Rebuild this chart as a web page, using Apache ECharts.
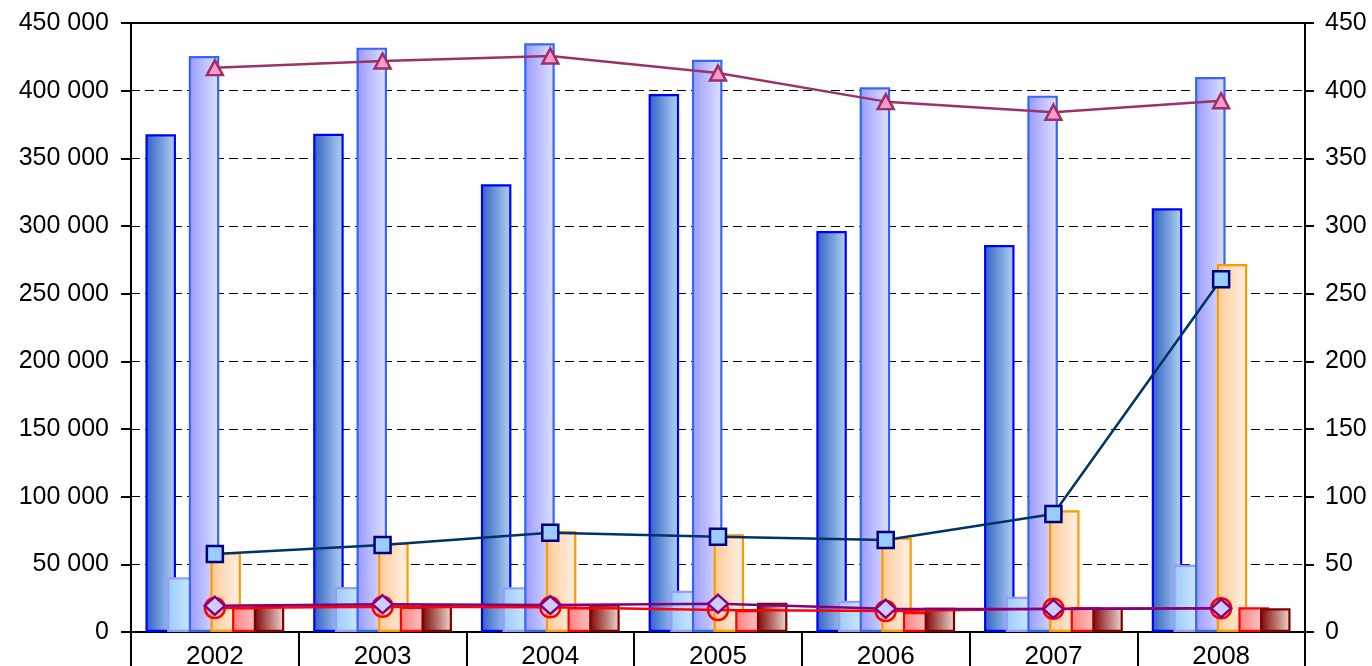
<!DOCTYPE html>
<html>
<head>
<meta charset="utf-8">
<script src="https://cdn.jsdelivr.net/npm/echarts@6/dist/echarts.min.js"></script>
<style>
html,body{margin:0;padding:0;background:#fff;}
#c{width:1372px;height:666px;}
</style>
</head>
<body>
<div id="c"></div>
<script>
var years = ['2002','2003','2004','2005','2006','2007','2008'];
var barDarkBlue  = [367800, 368200, 330800, 397500, 296300, 286000, 313100];
var barLightBlue = [40400, 33200, 33000, 30500, 23100, 26100, 49700];
var barLavender  = [425600, 431800, 435000, 422900, 402500, 396300, 410100];
var barOrange    = [58900, 66000, 74600, 72200, 69700, 89900, 271900];
var barRed       = [18200, 18700, 18200, 16300, 14800, 18500, 18200];
var barDarkRed   = [19700, 20500, 20500, 21700, 18000, 18000, 17500];
var lineTriangle = [417000, 421900, 425600, 413000, 391900, 384000, 392600];
var lineSquare   = [57600, 64300, 73400, 70400, 68000, 87200, 260600];
var lineDiamond  = [19400, 20500, 19900, 20900, 17200, 17000, 17500];
var lineCircle   = [17700, 18700, 18200, 16300, 15500, 17200, 17500];

var FONT = 'Liberation Sans, Arial, sans-serif';
function fmt(v){ return String(v).replace(/\B(?=(\d{3})+(?!\d))/g, ' '); }
function fmtRight(v){ return fmt(v).split(' ')[0]; }
function grad(a, b){
  return new echarts.graphic.LinearGradient(0, 0, 1, 0, [{offset:0, color:a},{offset:1, color:b}]);
}
var BW = 30.5, GAP = '-29%';
function bar(name, data, c1, c2, border){
  return {
    name: name, type: 'bar', data: data, yAxisIndex: 0,
    barWidth: BW, barGap: GAP,
    itemStyle: { color: grad(c1, c2), borderColor: border, borderWidth: 2.2 }
  };
}
function line(name, data, color, symbol, size, fill, border, width){
  return {
    name: name, type: 'line', data: data, yAxisIndex: 1, z: 5,
    symbol: symbol, symbolSize: size, showSymbol: true,
    lineStyle: { color: color, width: width },
    itemStyle: { color: fill, borderColor: border, borderWidth: 2.5 }
  };
}

var chart = echarts.init(document.getElementById('c'));
chart.setOption({
  animation: false,
  backgroundColor: '#ffffff',
  grid: { left: 131, right: 67, top: 23, bottom: 34, containLabel: false, outerBoundsMode: 'none',
          show: true, borderColor: '#000', borderWidth: 2, backgroundColor: 'transparent' },
  xAxis: {
    type: 'category', data: years,
    axisLine: { show: true, lineStyle: { color: '#000', width: 2 } },
    axisTick: { show: true, alignWithLabel: false, length: 40, lineStyle: { color: '#000', width: 2 } },
    axisLabel: { color: '#000', fontFamily: FONT, fontSize: 26, margin: 12 },
    splitLine: { show: false }
  },
  yAxis: [
    {
      type: 'value', min: 0, max: 450000, interval: 50000, position: 'left',
      axisLine: { show: true, lineStyle: { color: '#000', width: 2 } },
      axisTick: { show: true, length: 10, lineStyle: { color: '#000', width: 2 } },
      axisLabel: { color: '#000', fontFamily: FONT, fontSize: 25, margin: 22, formatter: fmt },
      splitLine: { show: true, lineStyle: { color: '#000', width: 1, type: [9, 5] } }
    },
    {
      type: 'value', min: 0, max: 450000, interval: 50000, position: 'right',
      axisLine: { show: true, lineStyle: { color: '#000', width: 2 } },
      axisTick: { show: true, length: 9, lineStyle: { color: '#000', width: 2 } },
      axisLabel: { color: '#000', fontFamily: FONT, fontSize: 25, margin: 20, formatter: fmtRight },
      splitLine: { show: false }
    }
  ],
  series: [
    bar('A', barDarkBlue, '#2f5fc4', '#b4d6f2', '#0000ff'),
    bar('B', barLightBlue, '#99ccff', '#dceeff', '#9999ff'),
    bar('C', barLavender, '#9999ff', '#e2e2ff', '#3366ff'),
    bar('D', barOrange, '#ffc994', '#fff2e8', '#ff9900'),
    bar('E', barRed, '#ff7f7f', '#ffd6d6', '#ff0000'),
    bar('F', barDarkRed, '#800000', '#ecdcd4', '#800000'),
    line('T', lineTriangle, '#993366', 'triangle', [16, 15], '#ff99cc', '#993366', 2.5),
    line('S', lineSquare, '#003366', 'rect', [16, 16], '#99ccff', '#000080', 2.5),
    line('O', lineCircle, '#ff0000', 'circle', 20, 'rgba(0,0,0,0)', '#ff0000', 2.5),
    line('D2', lineDiamond, '#800080', 'diamond', [20, 18], '#ccccff', '#800080', 2.5)
  ]
});
</script>
</body>
</html>
